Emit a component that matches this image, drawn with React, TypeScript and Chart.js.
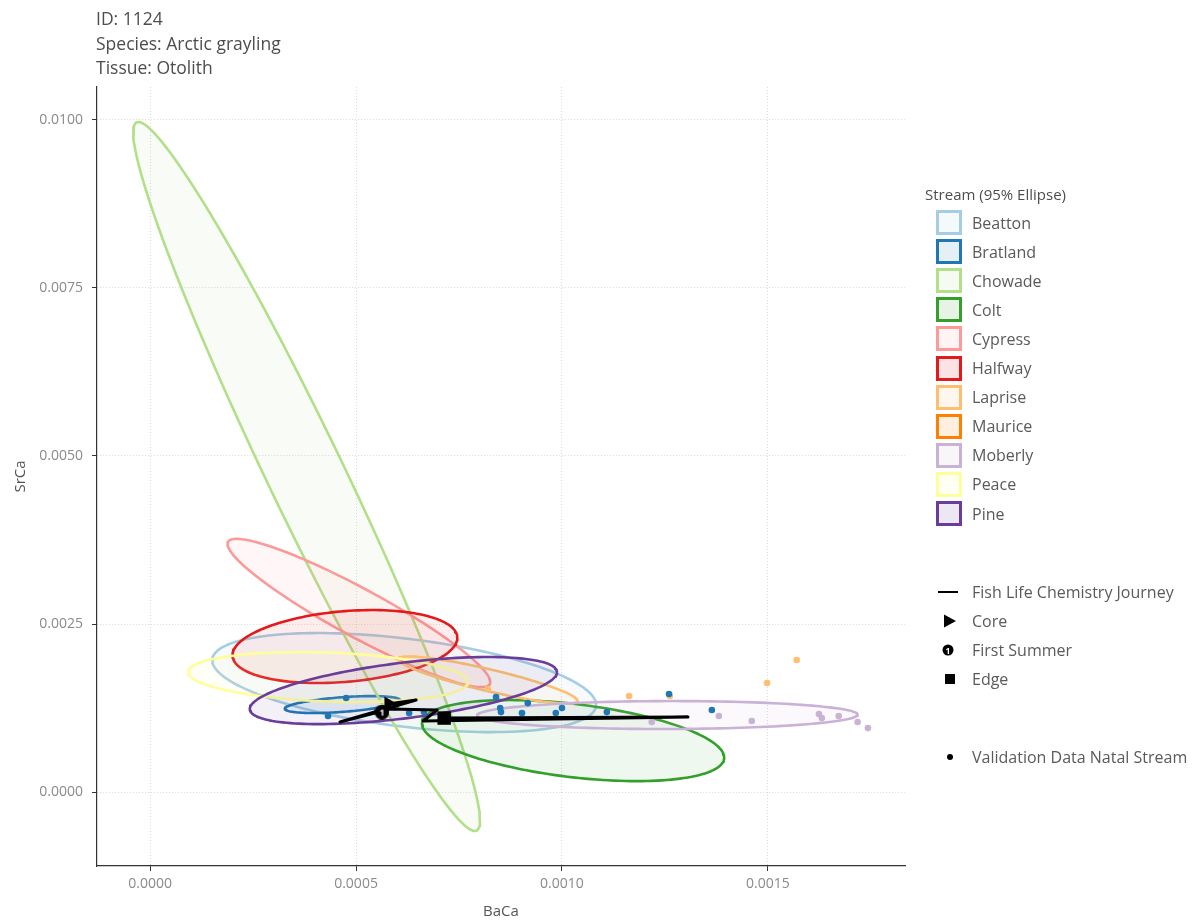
import React, { useEffect, useRef } from "react";
import { Chart, registerables } from "chart.js";

Chart.register(...registerables);

const FONT = '"Open Sans", "Noto Sans", sans-serif';

// ---- text ----
const titleLines = ["ID: 1124", "Species: Arctic grayling", "Tissue: Otolith"];
const xAxisTitle = "BaCa";
const yAxisTitle = "SrCa";
const streamLegendTitle = "Stream (95% Ellipse)";
const journeyLegendLabels = ["Fish Life Chemistry Journey", "Core", "First Summer", "Edge"];
const validationLegendLabel = "Validation Data Natal Stream";

// ---- axes ----
const xTickValues = [0, 0.0005, 0.001, 0.0015];
const yTickValues = [0, 0.0025, 0.005, 0.0075, 0.01];
const xRange = [-0.000129, 0.001833];
const yRange = [-0.0011, 0.01049];

// ---- streams (95% ellipse parameters: centre, half-range in x and y, correlation) ----
const streams = ["Beatton", "Bratland", "Chowade", "Colt", "Cypress", "Halfway", "Laprise", "Maurice", "Moberly", "Peace", "Pine"];
const streamColors = ["#A6CEE3", "#1F78B4", "#B2DF8A", "#33A02C", "#FB9A99", "#E31A1C", "#FDBF6F", "#FF7F00", "#CAB2D6", "#FFFF99", "#6A3D9A"];
const ellipseCenterX = [0.000617, 0.000467, 0.00038, 0.001027, 0.000507, 0.000473, 0.00082, null, 0.001256, 0.000432, 0.000615];
const ellipseCenterY = [0.001629, 0.001302, 0.004695, 0.000766, 0.002664, 0.002165, 0.001667, null, 0.001146, 0.001711, 0.00151];
const ellipseHalfX = [0.000466, 0.00014, 0.000421, 0.000367, 0.000319, 0.000273, 0.000218, null, 0.000462, 0.00034, 0.000373];
const ellipseHalfY = [0.000737, 0.000126, 0.005275, 0.000603, 0.001103, 0.000543, 0.000351, null, 0.000208, 0.000372, 0.000499];
const ellipseCorr = [-0.45, 0.5, -0.97, -0.42, -0.93, 0.24, -0.88, null, 0.03, -0.2, 0.55];

// ---- validation data (natal stream) ----
const bratlandValX = [0.000432, 0.000476, 0.000629, 0.000665, 0.00084, 0.00085, 0.000852, 0.000903, 0.000917, 0.000985, 0.001, 0.001109, 0.00126, 0.001364];
const bratlandValY = [0.001131, 0.001399, 0.001176, 0.00119, 0.001414, 0.00125, 0.00119, 0.001176, 0.001324, 0.001176, 0.00125, 0.00119, 0.001458, 0.00122];
const lapriseValX = [0.00082, 0.001163, 0.001262, 0.001498, 0.00157];
const lapriseValY = [0.001533, 0.001429, 0.001429, 0.001622, 0.001964];
const moberlyValX = [0.001218, 0.001381, 0.001461, 0.001624, 0.001631, 0.001672, 0.001718, 0.001743];
const moberlyValY = [0.001042, 0.001131, 0.001057, 0.001161, 0.001101, 0.001131, 0.001042, 0.000952];
const coltValX = [0.000597];
const coltValY = [0.001265];

// ---- fish life chemistry journey ----
const journeyX = [0.000578, 0.000646, 0.000461, 0.000583, 0.000697, 0.000663, 0.001306, 0.000714];
const journeyY = [0.00131, 0.001369, 0.001042, 0.001235, 0.00122, 0.001057, 0.001116, 0.001101];
const coreX = [0.000578];
const coreY = [0.001324];
const firstSummerX = [0.000563];
const firstSummerY = [0.00119];
const edgeX = [0.000714];
const edgeY = [0.001101];

function rgba(hex: string, a: number) {
  const n = parseInt(hex.slice(1), 16);
  return `rgba(${(n >> 16) & 255},${(n >> 8) & 255},${n & 255},${a})`;
}

function ellipsePoints(i: number) {
  const cx = ellipseCenterX[i];
  const cy = ellipseCenterY[i];
  const hx = ellipseHalfX[i];
  const hy = ellipseHalfY[i];
  const r = ellipseCorr[i];
  if (cx == null || cy == null || hx == null || hy == null || r == null) return [];
  const phase = Math.acos(r);
  const pts: { x: number; y: number }[] = [];
  const n = 160;
  for (let k = 0; k <= n; k++) {
    const t = (k / n) * 2 * Math.PI;
    pts.push({ x: cx + hx * Math.cos(t), y: cy + hy * Math.cos(t - phase) });
  }
  return pts;
}

function zip(xs: number[], ys: number[]) {
  return xs.map((x, i) => ({ x, y: ys[i] }));
}

function makeFirstSummerIcon(d: number) {
  const c = document.createElement("canvas");
  c.width = d;
  c.height = d;
  const g = c.getContext("2d")!;
  g.fillStyle = "#000";
  g.beginPath();
  g.arc(d / 2, d / 2, d / 2, 0, Math.PI * 2);
  g.fill();
  g.fillStyle = "#fff";
  g.font = `bold ${Math.round(d * 0.62)}px ${FONT}`;
  g.textAlign = "center";
  g.textBaseline = "middle";
  g.fillText("1", d / 2, d / 2 + 1);
  return c;
}

export default function App() {
  const ref = useRef<HTMLCanvasElement>(null);

  useEffect(() => {
    const ellipseDatasets = streams.map((s, i) => ({
      type: "line" as const,
      label: s,
      data: ellipsePoints(i),
      borderColor: streamColors[i],
      backgroundColor: rgba(streamColors[i], 0.08),
      borderWidth: 2.6,
      borderJoinStyle: "round",
      pointRadius: 0,
      fill: "shape",
      tension: 0,
      order: 100 - i,
    }));

    const valSets = [
      { name: "Colt", xs: coltValX, ys: coltValY },
      { name: "Laprise", xs: lapriseValX, ys: lapriseValY },
      { name: "Moberly", xs: moberlyValX, ys: moberlyValY },
      { name: "Bratland", xs: bratlandValX, ys: bratlandValY },
    ];
    const validationDatasets = valSets.map((v, k) => ({
      type: "scatter" as const,
      label: v.name + " validation",
      data: zip(v.xs, v.ys),
      backgroundColor: streamColors[streams.indexOf(v.name)],
      borderWidth: 0,
      pointRadius: 3.3,
      order: 20 - k,
    }));

    const chart = new Chart(ref.current!, {
      type: "scatter",
      data: {
        datasets: [
          ...ellipseDatasets,
          ...validationDatasets,
          {
            type: "line",
            label: journeyLegendLabels[0],
            data: zip(journeyX, journeyY),
            borderColor: "#000",
            borderWidth: 3,
            borderJoinStyle: "round",
            borderCapStyle: "butt",
            pointRadius: 0,
            fill: false,
            tension: 0,
            order: 5,
          },
          {
            type: "scatter",
            label: journeyLegendLabels[1],
            data: zip(coreX, coreY),
            pointStyle: "triangle",
            rotation: 90,
            pointRadius: 7.5,
            backgroundColor: "#000",
            borderWidth: 0,
            order: 2,
          },
          {
            type: "scatter",
            label: journeyLegendLabels[2],
            data: zip(firstSummerX, firstSummerY),
            pointStyle: makeFirstSummerIcon(15),
            pointRadius: 7,
            backgroundColor: "#000",
            borderWidth: 0,
            order: 3,
          },
          {
            type: "scatter",
            label: journeyLegendLabels[3],
            data: zip(edgeX, edgeY),
            pointStyle: "rect",
            pointRadius: 9.5,
            backgroundColor: "#000",
            borderWidth: 0,
            order: 1,
          },
        ] as any,
      },
      options: {
        responsive: false,
        animation: false,
        events: [],
        layout: { padding: { left: 0, top: 87, right: 289, bottom: 0 } },
        plugins: {
          legend: { display: false },
          tooltip: { enabled: false },
          title: { display: false },
        },
        scales: {
          x: {
            type: "linear",
            min: xRange[0],
            max: xRange[1],
            afterBuildTicks: (s: any) => {
              s.ticks = xTickValues.map((v) => ({ value: v }));
            },
            afterFit: (s: any) => {
              s.height = 56;
            },
            ticks: {
              callback: (v: any) => Number(v).toFixed(4),
              color: "#8a8a8a",
              font: { family: FONT, size: 14 },
              padding: 5,
              maxRotation: 0,
            },
            grid: {
              color: "#dadada",
              lineWidth: 1,
              drawTicks: true,
              tickLength: 5,
              tickColor: "#333",
              tickWidth: 1,
            },
            border: { display: true, color: "#333", width: 1.2, dash: [1, 2] },
            title: {
              display: true,
              text: xAxisTitle,
              color: "#555",
              font: { family: FONT, size: 15 },
              padding: { top: 0, bottom: 1 },
            },
          },
          y: {
            type: "linear",
            min: yRange[0],
            max: yRange[1],
            afterBuildTicks: (s: any) => {
              s.ticks = yTickValues.map((v) => ({ value: v }));
            },
            afterFit: (s: any) => {
              s.width = 97;
            },
            ticks: {
              callback: (v: any) => Number(v).toFixed(4),
              color: "#8a8a8a",
              font: { family: FONT, size: 14 },
              padding: 9,
            },
            grid: {
              color: "#dadada",
              lineWidth: 1,
              drawTicks: true,
              tickLength: 5,
              tickColor: "#333",
              tickWidth: 1,
            },
            border: { display: true, color: "#333", width: 1.2, dash: [1, 2] },
            title: {
              display: true,
              text: yAxisTitle,
              color: "#555",
              font: { family: FONT, size: 15 },
              padding: { top: 12, bottom: 0 },
            },
          },
        },
      } as any,
    });
    return () => chart.destroy();
  }, []);

  const textStyle: React.CSSProperties = {
    position: "absolute",
    color: "#5a5a5a",
    fontSize: 16,
    whiteSpace: "nowrap",
    lineHeight: "20px",
  };

  return (
    <div style={{ position: "absolute", left: 0, top: 0, width: 1194, height: 922, background: "#fff", fontFamily: FONT, overflow: "hidden" }}>
      <canvas ref={ref} width={1194} height={922} style={{ position: "absolute", left: 0, top: 0, width: 1194, height: 922 }} />
      <div style={{ position: "absolute", left: 96, top: 6, color: "#4d4d4d", fontSize: 17.5, lineHeight: "24.5px", whiteSpace: "nowrap" }}>
        {titleLines.map((t) => (
          <div key={t}>{t}</div>
        ))}
      </div>
      <div style={{ ...textStyle, left: 925, top: 184, fontSize: 15, color: "#4d4d4d" }}>{streamLegendTitle}</div>
      {streams.map((s, i) => {
        const cy = 222.5 + 29.1 * i;
        return (
          <React.Fragment key={s}>
            <div
              style={{
                position: "absolute",
                left: 936,
                top: cy - 12.5,
                width: 26,
                height: 25,
                boxSizing: "border-box",
                border: `3px solid ${streamColors[i]}`,
                background: rgba(streamColors[i], 0.12),
              }}
            />
            <div style={{ ...textStyle, left: 972, top: cy - 10 }}>{s}</div>
          </React.Fragment>
        );
      })}
      {/* journey legend */}
      <div style={{ position: "absolute", left: 938, top: 591, width: 20, height: 2, background: "#000" }} />
      <svg style={{ position: "absolute", left: 943, top: 614 }} width={14} height={14}>
        <polygon points="1,0.5 13,7 1,13.5" fill="#000" />
      </svg>
      <svg style={{ position: "absolute", left: 942, top: 644 }} width={12} height={12}>
        <circle cx={6} cy={6} r={5.5} fill="#000" />
        <text x={6} y={9.5} fontSize={8.5} fontWeight="bold" fill="#fff" textAnchor="middle" fontFamily={FONT}>1</text>
      </svg>
      <div style={{ position: "absolute", left: 945, top: 674, width: 10, height: 10, background: "#000" }} />
      <div style={{ position: "absolute", left: 947, top: 754, width: 6, height: 6, borderRadius: "50%", background: "#000" }} />
      {journeyLegendLabels.map((t, i) => (
        <div key={t} style={{ ...textStyle, left: 972, top: 592 + 29 * i - 10 }}>{t}</div>
      ))}
      <div style={{ ...textStyle, left: 972, top: 757 - 10 }}>{validationLegendLabel}</div>
    </div>
  );
}
